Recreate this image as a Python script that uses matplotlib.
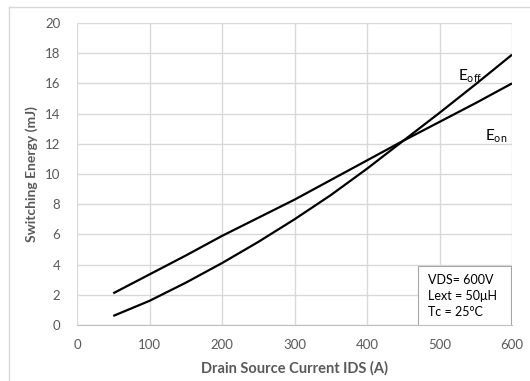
import matplotlib
matplotlib.use("Agg")
import matplotlib.pyplot as plt
from matplotlib.lines import Line2D
from matplotlib.patches import Rectangle

# Switching energy vs drain-source current
ids_a = [50, 100, 150, 200, 250, 300, 350, 400, 450, 500, 550, 600]
e_off = [0.6, 1.6, 2.8, 4.1, 5.5, 7.0, 8.6, 10.35, 12.2, 14.05, 15.95, 17.9]
e_on = [2.1, 3.35, 4.6, 5.9, 7.1, 8.3, 9.6, 10.9, 12.2, 13.45, 14.7, 16.0]

x_ticks = [0, 100, 200, 300, 400, 500, 600]
y_ticks = [0, 2, 4, 6, 8, 10, 12, 14, 16, 18, 20]
conditions = ["VDS= 600V", "Lext = 50\u03bcH", "Tc = 25\u00b0C"]

plt.rcParams["font.family"] = ["Lato", "DejaVu Sans"]
grid_c = "#d9d9d9"
text_c = "#595959"

fig = plt.figure(figsize=(5.30, 3.81), dpi=100)
W, H = 530, 381

# outer chart frame
fig.add_artist(Line2D([9 / W, 9 / W], [0, 1 - 7 / H], transform=fig.transFigure,
                      color=grid_c, lw=1))
fig.add_artist(Line2D([9 / W, 1], [1 - 7 / H, 1 - 7 / H], transform=fig.transFigure,
                      color=grid_c, lw=1))

ax = fig.add_axes([77 / W, 1 - 325 / H, (512 - 77) / W, (325 - 23) / H])
ax.plot(ids_a, e_off, color="black", lw=1.6, solid_capstyle="butt")
ax.plot(ids_a, e_on, color="black", lw=1.6, solid_capstyle="butt")

ax.set_xlim(0, 600)
ax.set_ylim(0, 20)
ax.set_xticks(x_ticks)
ax.set_yticks(y_ticks)
ax.grid(True, color=grid_c, lw=1)
ax.set_axisbelow(True)
for s in ["top", "right", "left"]:
    ax.spines[s].set_visible(False)
ax.spines["bottom"].set_color("#bfbfbf")
ax.tick_params(length=0, labelsize=9.5, labelcolor=text_c)
ax.tick_params(axis="y", pad=12)
ax.tick_params(axis="x", pad=10)

ax.set_xlabel("Drain Source Current IDS (A)", fontsize=10.5, fontweight="bold",
              color=text_c, labelpad=7)
ax.set_ylabel("Switching Energy (mJ)", fontsize=10, fontweight="bold",
              color=text_c, labelpad=5)

ax.text(543, 16.5, r"E$_{\mathregular{off}}$", fontsize=11, color="black",
        ha="center", va="center")
ax.text(578, 12.5, r"E$_{\mathregular{on}}$", fontsize=11, color="black",
        ha="center", va="center")

# test-condition box in the lower right corner
ax.add_patch(Rectangle((0.784, 0.0), 0.213, 0.195, transform=ax.transAxes,
                       fc="white", ec="#a6a6a6", lw=0.8, zorder=3))
ax.text(0.807, 0.17, "\n".join(conditions), transform=ax.transAxes,
        fontsize=9, color="black", va="top", ha="left", linespacing=1.4,
        zorder=4)

fig.savefig("out.png", dpi=100)
